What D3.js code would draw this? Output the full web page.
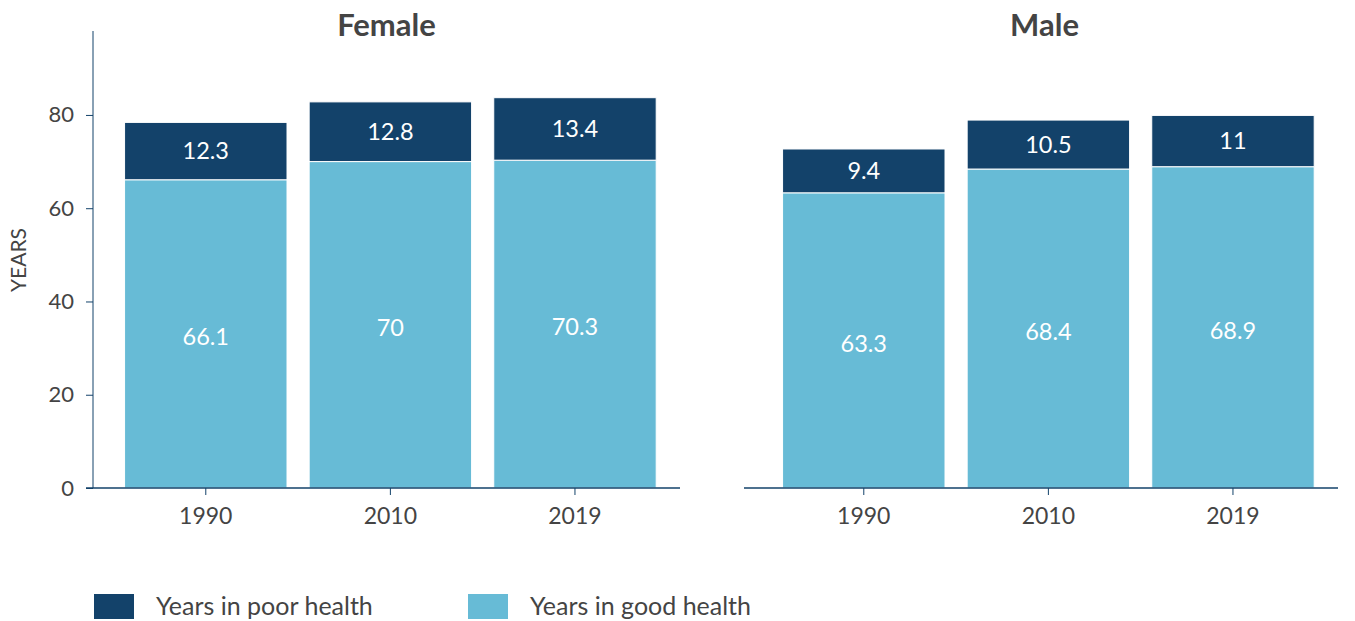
<!DOCTYPE html>
<html>
<head>
<meta charset="utf-8">
<script src="https://cdn.jsdelivr.net/npm/d3@7"></script>
<style>
  body { margin: 0; background: #fff; }
  svg text { font-family: "Source Sans Pro", "Lato", sans-serif; }
</style>
</head>
<body>
<div id="chart"></div>
<script>
// data
var years = ["1990", "2010", "2019"];
var panels = ["Female", "Male"];
var goodHealth = { Female: [66.1, 70, 70.3], Male: [63.3, 68.4, 68.9] };
var poorHealth = { Female: [12.3, 12.8, 13.4], Male: [9.4, 10.5, 11] };
var yTicks = [0, 20, 40, 60, 80];
var seriesNames = ["Years in poor health", "Years in good health"];

var darkBlue = "#13426a",
    lightBlue = "#67bbd6",
    textGray = "#444444";

var width = 1355, height = 621;
var svg = d3.select("#chart").append("svg")
    .attr("width", width)
    .attr("height", height);

// y scale shared by both panels
var y = d3.scaleLinear().domain([0, 98]).range([488, 31]);

// panel x ranges
var panelRanges = { Female: [93, 680], Male: [751, 1338] };

// y axis (only left panel)
var yAxis = svg.append("g")
    .attr("transform", "translate(93,0)")
    .call(d3.axisLeft(y).tickValues(yTicks).tickSize(7).tickPadding(12));
yAxis.select(".domain").attr("stroke", darkBlue).attr("d", "M0," + y(0) + "V" + y.range()[1]);
yAxis.selectAll(".tick line").attr("stroke", darkBlue);
yAxis.selectAll(".tick text").style("font-size", "22px").attr("fill", textGray);

svg.append("text")
    .attr("transform", "translate(26," + 260 + ") rotate(-90)")
    .attr("text-anchor", "middle")
    .style("font-size", "21px")
    .attr("fill", textGray)
    .text("YEARS");

panels.forEach(function (p) {
    var r = panelRanges[p];
    var x = d3.scaleBand().domain(years).range(r)
        .paddingInner(0.12).paddingOuter(0.15).align(0.57);
    var g = svg.append("g");

    // title
    g.append("text")
        .attr("x", (r[0] + r[1]) / 2)
        .attr("y", 36)
        .attr("text-anchor", "middle")
        .style("font-size", "31px")
        .style("font-weight", "bold")
        .attr("fill", textGray)
        .text(p);

    var rows = years.map(function (yr, i) {
        return { year: yr, good: goodHealth[p][i], poor: poorHealth[p][i] };
    });

    // good health bars
    g.selectAll(".good").data(rows).enter().append("rect")
        .attr("x", function (d) { return x(d.year); })
        .attr("y", function (d) { return y(d.good); })
        .attr("width", x.bandwidth())
        .attr("height", function (d) { return y(0) - y(d.good); })
        .attr("fill", lightBlue)
        .attr("stroke", "#fff")
        .attr("stroke-width", 1);

    // poor health bars
    g.selectAll(".poor").data(rows).enter().append("rect")
        .attr("x", function (d) { return x(d.year); })
        .attr("y", function (d) { return y(d.good + d.poor); })
        .attr("width", x.bandwidth())
        .attr("height", function (d) { return y(d.good) - y(d.good + d.poor); })
        .attr("fill", darkBlue)
        .attr("stroke", "#fff")
        .attr("stroke-width", 1);

    // labels
    g.selectAll(".goodLabel").data(rows).enter().append("text")
        .attr("x", function (d) { return x(d.year) + x.bandwidth() / 2; })
        .attr("y", function (d) { return (y(0) + y(d.good)) / 2 + 3; })
        .attr("dy", "0.35em")
        .attr("text-anchor", "middle")
        .style("font-size", "23.5px")
        .attr("fill", "#fff")
        .text(function (d) { return d.good; });

    g.selectAll(".poorLabel").data(rows).enter().append("text")
        .attr("x", function (d) { return x(d.year) + x.bandwidth() / 2; })
        .attr("y", function (d) { return (y(d.good) + y(d.good + d.poor)) / 2; })
        .attr("dy", "0.35em")
        .attr("text-anchor", "middle")
        .style("font-size", "23.5px")
        .attr("fill", "#fff")
        .text(function (d) { return d.poor; });

    // x axis
    var xAxis = g.append("g")
        .attr("transform", "translate(0," + y(0) + ")")
        .call(d3.axisBottom(x).tickSize(7).tickPadding(13).tickSizeOuter(0));
    xAxis.select(".domain").attr("stroke", darkBlue).attr("stroke-width", 1.5)
        .attr("d", "M" + (r[0] - 7) + ",0H" + r[1]);
    xAxis.selectAll(".tick line").attr("stroke", darkBlue);
    xAxis.selectAll(".tick text").style("font-size", "23px").attr("fill", textGray);
});

// legend
var legendColors = [darkBlue, lightBlue];
var legendX = [94, 468];
var legend = svg.selectAll(".legend").data(seriesNames).enter().append("g")
    .attr("transform", function (d, i) { return "translate(" + legendX[i] + ",594)"; });
legend.append("rect")
    .attr("width", 40)
    .attr("height", 25)
    .attr("fill", function (d, i) { return legendColors[i]; });
legend.append("text")
    .attr("x", 62)
    .attr("y", 12.5)
    .attr("dy", "0.35em")
    .style("font-size", "25px")
    .attr("fill", textGray)
    .text(function (d) { return d; });
</script>
</body>
</html>
